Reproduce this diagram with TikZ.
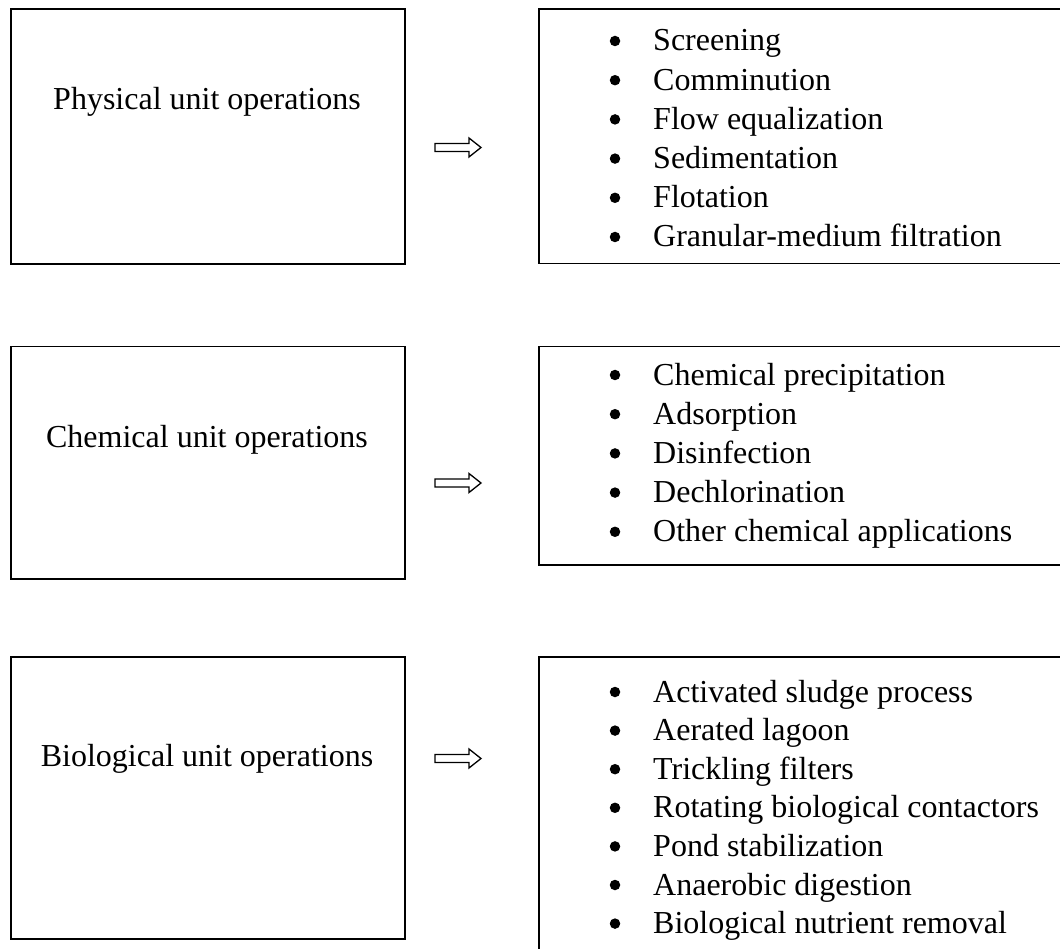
\documentclass[tikz,border=0pt]{standalone}
\usepackage{fontspec}
\setmainfont{Liberation Serif}
\begin{document}
\begin{tikzpicture}[x=1pt,y=-1pt,
  box/.style={draw, line width=1.5pt, rectangle, inner sep=0pt, anchor=north west},
  lbl/.style={font=\fontsize{32}{39}\selectfont, inner sep=0pt, anchor=base},
  itm/.style={font=\fontsize{32}{39}\selectfont, inner sep=0pt, anchor=base west},
  bul/.style={circle, fill=black, inner sep=0pt, minimum size=10.5pt},
  blockarrow/.style={draw, line width=1.3pt, fill=white, line join=miter}
]
\useasboundingbox (0,0) rectangle (1060,949);
\clip (0,0) rectangle (1060,949);

% Row 1
\node[box, minimum width=394pt, minimum height=255pt] (L1) at (10,8.5) {};
\node[lbl] (t1) at (207,110) {Physical unit operations};
\coordinate (a1) at (435,147.5);
\node[box, minimum width=540pt, minimum height=254.5pt] (R1) at (538,8.5) {};
\foreach \txt [count=\i from 0] in {Screening, Comminution, Flow equalization, Sedimentation, Flotation, Granular-medium filtration}{
  \node[bul] (b1\i) at (615,41+39.2*\i) {};
  \node[itm] (i1\i) at (653,51+39.2*\i) {\txt};
}

% Row 2
\node[box, minimum width=394pt, minimum height=232pt] (L2) at (10,346) {};
\node[lbl] (t2) at (207,447) {Chemical unit operations};
\coordinate (a2) at (435,483);
\node[box, minimum width=540pt, minimum height=218pt] (R2) at (538,346) {};
\foreach \txt [count=\i from 0] in {Chemical precipitation, Adsorption, Disinfection, Dechlorination, Other chemical applications}{
  \node[bul] (b2\i) at (615,375+39.2*\i) {};
  \node[itm] (i2\i) at (653,385+39.2*\i) {\txt};
}

% Row 3
\node[box, minimum width=394pt, minimum height=282pt] (L3) at (10,656) {};
\node[lbl] (t3) at (207,766) {Biological unit operations};
\coordinate (a3) at (435,758.5);
\node[box, minimum width=540pt, minimum height=320pt] (R3) at (538,656) {};
\foreach \txt [count=\i from 0] in {Activated sludge process, Aerated lagoon, Trickling filters, Rotating biological contactors, Pond stabilization, Anaerobic digestion, Biological nutrient removal}{
  \node[bul] (b3\i) at (615,692+38.6*\i) {};
  \node[itm] (i3\i) at (653,702+38.6*\i) {\txt};
}

% block arrows
\foreach \a in {a1,a2,a3}{
  \draw[blockarrow] (\a) ++(0,-4) -- ++(34,0) -- ++(0,-5.5) -- ++(12,9.5)
    -- ++(-12,9.5) -- ++(0,-5.5) -- ++(-34,0) -- cycle;
}
\end{tikzpicture}
\end{document}
